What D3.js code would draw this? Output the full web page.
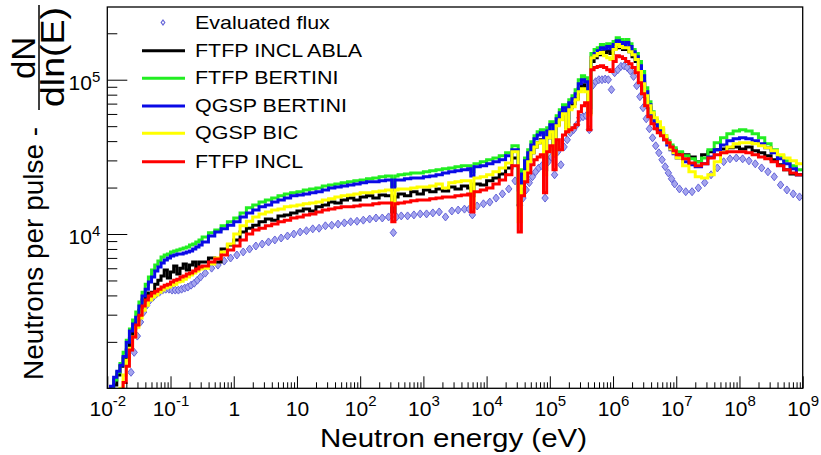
<!DOCTYPE html>
<html>
<head>
<meta charset="utf-8">
<script src="https://cdn.jsdelivr.net/npm/d3@7"></script>
<style>
	body { margin: 0; background: #fff; }
	svg { display: block; font-family: 'Liberation Sans', Arial, sans-serif; }
</style>
</head>
<body>
<div id="chart"></div>
<script>
// bin lower edges, log10(E / eV); the last entry closes the last bin
const logEdges = [-2.0, -1.95, -1.9, -1.85, -1.8, -1.75, -1.7, -1.65, -1.6, -1.55,
	-1.5, -1.45, -1.4, -1.35, -1.3, -1.25, -1.2, -1.15, -1.1, -1.05,
	-1.0, -0.95, -0.9, -0.85, -0.8, -0.75, -0.7, -0.65, -0.6, -0.55,
	-0.5, -0.4, -0.3, -0.2, -0.1,
	0.0, 0.1, 0.2, 0.3, 0.4, 0.5, 0.6, 0.7, 0.8, 0.9,
	1.0, 1.1, 1.2, 1.3, 1.4, 1.5, 1.6, 1.7, 1.8, 1.9,
	2.0, 2.1, 2.2, 2.3, 2.4, 2.5, 2.55, 2.6, 2.7, 2.8,
	2.9, 3.0, 3.1, 3.2, 3.3, 3.4, 3.5, 3.6, 3.7, 3.75,
	3.8, 3.9, 4.0, 4.1, 4.2, 4.3, 4.4, 4.5, 4.55, 4.6,
	4.65, 4.7, 4.75, 4.8, 4.85, 4.9, 4.95, 5.0, 5.05, 5.1,
	5.15, 5.2, 5.25, 5.3, 5.35, 5.4, 5.45, 5.5, 5.55, 5.6,
	5.65, 5.7, 5.75, 5.8, 5.85, 5.9, 5.95, 6.0, 6.05, 6.1,
	6.15, 6.2, 6.25, 6.3, 6.35, 6.4, 6.45, 6.5, 6.55, 6.6,
	6.65, 6.7, 6.75, 6.8, 6.85, 6.9, 6.95, 7.0, 7.1, 7.2,
	7.3, 7.4, 7.5, 7.6, 7.7, 7.8, 7.9, 8.0, 8.1, 8.2,
	8.3, 8.4, 8.5, 8.6, 8.7, 8.8, 8.9, 9.0];

const evaluatedFlux = [341, 396, 460, 534, 620, 720, 836, 1270, 1710, 2180,
	2690, 3120, 3460, 3730, 3900, 4080, 4200, 4330, 4390, 4390,
	4330, 4330, 4330, 4390, 4460, 4530, 4660, 4800, 5020, 5260,
	5580, 6010, 6290, 6680, 6990,
	7310, 7650, 7990, 8360, 8610, 8880, 9150, 9420, 9710, 10000,
	10300, 10500, 10800, 10900, 11300, 11400, 11600, 11800, 12000, 12100,
	12300, 12500, 12700, 12700, 12900, 10200, 12900, 13100, 13100, 13300,
	13500, 13500, 13700, 13900, 12900, 14100, 14300, 14500, 14500, 13300,
	15200, 15700, 16100, 17100, 18200, 19600, 22100, 15400, 17100, 19300,
	21500, 23500, 25300, 26800, 27700, 17100, 29400, 31600, 24200, 34100,
	28100, 36700, 40800, 45300, 47400, 51000, 56700, 57500, 58400, 47400,
	91400, 97100, 100000, 100000, 101000, 100000, 86200, 111000, 116000, 122000,
	123000, 120000, 114000, 105000, 91400, 77600, 65800, 55800, 48100, 42000,
	37300, 33600, 30300, 27300, 24900, 22800, 21100, 19600, 18800, 18800,
	19900, 21500, 24200, 26800, 29400, 30700, 31100, 30700, 29800, 28500,
	26800, 25300, 23500, 20800, 19300, 18200, 17400];

const ftfpInclAbla = [776, 901, 1050, 1220, 1390, 1570, 1770, 2110, 2460, 2770,
	3210, 3730, 4140, 3840, 4200, 4730, 5020, 5340, 5840, 5180,
	5670, 6200, 5500, 6010, 6390, 5840, 6290, 6580, 6010, 6580,
	6580, 6990, 6580, 7990, 8490,
	9150, 10300, 10900, 11400, 12000, 12500, 12300, 13100, 13300, 13700,
	14100, 14500, 14100, 15000, 15400, 16100, 15900, 16600, 17100, 16600,
	17400, 17700, 17100, 17900, 17700, 13900, 17400, 18200, 17700, 18800,
	18200, 19300, 18800, 19600, 19000, 20200, 19600, 20500, 19900, 17700,
	21100, 20800, 22100, 23100, 24500, 26800, 31100, 15400, 21100, 26100,
	30300, 33600, 36700, 39000, 40800, 26100, 42000, 46000, 35100, 51000,
	55800, 60200, 48800, 65800, 69900, 75300, 87400, 92800, 88700, 61100,
	131000, 139000, 145000, 152000, 150000, 154000, 148000, 159000, 166000, 161000,
	157000, 161000, 152000, 141000, 131000, 114000, 97100, 77600, 65800, 57500,
	51800, 47400, 43900, 41400, 39000, 36700, 35100, 33600, 32600, 31600,
	29400, 32600, 34100, 35100, 35600, 36200, 36700, 35600, 36700, 34600,
	33600, 32100, 30300, 28100, 26100, 24500, 24200];

const ftfpBertini = [836, 943, 1130, 1270, 1450, 1710, 2050, 2420, 2770, 3120,
	3620, 4200, 4730, 5260, 5840, 6290, 6680, 7090, 7310, 7420,
	7650, 7760, 7880, 7990, 8110, 8240, 8490, 8610, 8880, 9150,
	9570, 10200, 10600, 11300, 12000,
	12700, 13700, 14800, 15400, 16100, 16600, 17100, 17700, 18200, 18500,
	18800, 19300, 19600, 19900, 20500, 20800, 21100, 21500, 21800, 22100,
	22400, 22800, 23100, 23500, 23800, 20500, 23800, 24200, 24500, 24900,
	24900, 25300, 25700, 26100, 26500, 26800, 27300, 27700, 27700, 25300,
	28500, 29400, 30300, 31100, 32100, 33600, 37300, 20500, 26100, 31100,
	35100, 39600, 43300, 46000, 47400, 31100, 48800, 53400, 40800, 58400,
	63900, 68800, 56700, 74200, 78800, 86200, 100000, 106000, 103000, 68800,
	148000, 157000, 161000, 169000, 166000, 171000, 166000, 177000, 187000, 182000,
	177000, 182000, 171000, 157000, 148000, 131000, 113000, 88700, 72000, 62000,
	55000, 50300, 47400, 43300, 40200, 37800, 36200, 34100, 32100, 30700,
	29400, 31100, 35100, 39000, 42000, 44600, 46600, 47400, 46600, 44600,
	42000, 38400, 35100, 32100, 29800, 27700, 26100];

const qgspBertini = [901, 1030, 1180, 1290, 1410, 1610, 1990, 2350, 2610, 2890,
	3410, 3960, 4390, 4880, 5260, 5750, 6110, 6480, 6780, 6990,
	7200, 7310, 7420, 7420, 7530, 7650, 7760, 7990, 8240, 8490,
	8880, 9710, 10300, 10800, 11400,
	12000, 12900, 13700, 14300, 15000, 15400, 16100, 16600, 17100, 17700,
	17900, 18200, 18500, 18800, 19300, 19900, 20200, 20500, 20800, 21100,
	21500, 21800, 21800, 22100, 22400, 19300, 22400, 22400, 22800, 23100,
	23100, 23500, 23800, 24200, 24900, 25300, 25700, 26100, 26500, 23800,
	27300, 27700, 28500, 29400, 30300, 32100, 35100, 19300, 24500, 29800,
	33600, 37800, 41400, 43900, 45300, 29400, 46600, 51000, 38400, 55800,
	61100, 65800, 53400, 70900, 75300, 81200, 94200, 100000, 97100, 65800,
	139000, 148000, 154000, 161000, 159000, 164000, 159000, 169000, 179000, 174000,
	169000, 174000, 164000, 152000, 141000, 123000, 106000, 83700, 68800, 59300,
	52600, 48100, 44600, 40800, 37800, 35100, 33100, 31100, 29400, 28100,
	27300, 28500, 31600, 35100, 37800, 40200, 41400, 42000, 41400, 40200,
	38400, 36200, 33600, 30700, 28500, 26500, 24200];

const qgspBic = [620, 699, 800, 901, 1000, 1220, 1520, 1820, 2150, 2490,
	2850, 3210, 3460, 3730, 3900, 4020, 4200, 4330, 4460, 4530,
	4660, 4730, 4880, 4950, 5100, 5260, 5420, 5580, 5750, 5930,
	6010, 6390, 6990, 7650, 8610,
	10000, 11300, 12100, 12900, 13500, 13900, 14300, 14500, 15000, 15200,
	15400, 15700, 15900, 16100, 16600, 16900, 17400, 17700, 17900, 18200,
	18500, 18500, 18800, 19000, 19300, 15400, 19300, 19600, 19600, 19900,
	20200, 20200, 20500, 21100, 19900, 21500, 21800, 22100, 22100, 14800,
	23100, 23500, 24200, 25300, 26800, 28900, 34100, 12000, 20500, 25300,
	29400, 33600, 36700, 39000, 40200, 24200, 42000, 46000, 32600, 50300,
	55000, 60200, 46000, 63900, 66800, 74200, 83700, 87400, 83700, 59300,
	139000, 143000, 148000, 150000, 143000, 139000, 135000, 157000, 169000, 164000,
	161000, 161000, 152000, 145000, 135000, 113000, 94200, 78800, 67800, 61100,
	56700, 53400, 48800, 43300, 39000, 35600, 33600, 31100, 27700, 25300,
	23500, 23100, 24200, 29400, 33600, 36700, 38400, 39000, 39000, 38400,
	37300, 36200, 34600, 32600, 31100, 29800, 28500];

const ftfpIncl = [534, 620, 720, 836, 943, 1090, 1390, 1770, 2150, 2570,
	2980, 3410, 3730, 3960, 4140, 4260, 4390, 4530, 4660, 4730,
	4880, 5020, 5100, 5260, 5340, 5500, 5580, 5750, 5930, 6110,
	6200, 6580, 6880, 7310, 7880,
	8360, 9150, 10000, 10600, 10900, 11300, 11600, 12000, 12300, 12700,
	12900, 13300, 13500, 13900, 14300, 14500, 14800, 15000, 15000, 15200,
	15400, 15400, 15700, 15900, 15900, 12000, 15700, 15900, 16100, 16400,
	16600, 16600, 16900, 17100, 17400, 17400, 17700, 17900, 18200, 13900,
	18800, 19300, 19900, 21100, 22400, 24200, 27700, 10300, 17700, 21800,
	24900, 28100, 30300, 31600, 32600, 18500, 34100, 37300, 26100, 40800,
	35100, 43900, 46000, 47400, 48800, 51000, 62000, 67800, 70900, 47400,
	116000, 120000, 122000, 123000, 120000, 116000, 113000, 131000, 143000, 141000,
	137000, 131000, 127000, 120000, 111000, 95600, 81200, 67800, 57500, 51800,
	48100, 45300, 43300, 40800, 39000, 36700, 34600, 32600, 30700, 28900,
	27700, 28500, 31100, 32600, 33600, 34100, 34100, 34100, 33600, 32600,
	31600, 30700, 29400, 27700, 26100, 24900, 24200];

const modelNames = ['FTFP INCL ABLA', 'FTFP BERTINI', 'QGSP BERTINI', 'QGSP BIC', 'FTFP INCL'];
const modelValues = [ftfpInclAbla, ftfpBertini, qgspBertini, qgspBic, ftfpIncl];
const modelColors = ['#000000', '#22ee22', '#0a0ae6', '#ffff00', '#ff0000'];
const evaluatedName = 'Evaluated flux';
const evaluatedColor = '#6464d8';

const xTickExponents = [-2, -1, 0, 1, 2, 3, 4, 5, 6, 7, 8, 9];
const yTickExponents = [4, 5];

const width = 821;
const height = 455;
const margin = { top: 7, right: 18.3, bottom: 66.7, left: 107.3 };
const font = "'Liberation Sans', Arial, sans-serif";

const svg = d3.select('#chart').append('svg').attr('width', width).attr('height', height);

const x = d3.scaleLog().domain([1e-2, 1e9]).range([margin.left, width - margin.right]);
const y = d3.scaleLog().domain([1e3, 2.96e5]).range([height - margin.bottom, margin.top]);

svg.append('defs').append('clipPath').attr('id', 'plot-clip')
	.append('rect')
	.attr('x', margin.left).attr('y', margin.top)
	.attr('width', width - margin.left - margin.right)
	.attr('height', height - margin.top - margin.bottom);

const edges = logEdges.map((l) => Math.pow(10, l));
const centers = logEdges.slice(0, -1).map((l, i) => Math.pow(10, (l + logEdges[i + 1]) / 2));

function stepPoints(vals) {
	const pts = vals.map((v, i) => [edges[i], v]);
	pts.push([edges[vals.length], vals[vals.length - 1]]);
	return pts;
}

const line = d3.line()
	.x((d) => x(d[0]))
	.y((d) => y(d[1]))
	.curve(d3.curveStepAfter);

const plot = svg.append('g').attr('clip-path', 'url(#plot-clip)');

const diamond = 'M0,-4L3.2,0L0,4L-3.2,0Z';

plot.selectAll('.eval')
	.data(evaluatedFlux)
	.enter()
	.append('path')
	.attr('class', 'eval')
	.attr('d', diamond)
	.attr('transform', (d, i) => `translate(${x(centers[i])},${y(d)})`)
	.attr('fill', '#a4a4ee')
	.attr('stroke', evaluatedColor)
	.attr('stroke-width', 1);

modelValues.forEach((vals, k) => {
	plot.append('path')
		.attr('d', line(stepPoints(vals)))
		.attr('fill', 'none')
		.attr('stroke', modelColors[k])
		.attr('stroke-width', 3);
});

// ticks
const xMajor = xTickExponents.map((e) => Math.pow(10, e));
const xMinor = [];
xTickExponents.slice(0, -1).forEach((e) => {
	for (let m = 2; m <= 9; m++) xMinor.push(m * Math.pow(10, e));
});
const yMajor = yTickExponents.map((e) => Math.pow(10, e));
const yMinor = [];
[3, 4, 5].forEach((e) => {
	for (let m = 2; m <= 9; m++) {
		const v = m * Math.pow(10, e);
		if (v < y.domain()[1]) yMinor.push(v);
	}
});

const axisY0 = y.range()[0];

const gxMinor = svg.append('g')
	.attr('transform', `translate(0,${axisY0})`)
	.call(d3.axisBottom(x).tickValues(xMinor).tickSizeInner(-6).tickSizeOuter(0).tickFormat(''));
gxMinor.select('.domain').remove();

const gxMajor = svg.append('g')
	.attr('transform', `translate(0,${axisY0})`)
	.call(d3.axisBottom(x).tickValues(xMajor).tickSizeInner(-12).tickSizeOuter(0).tickPadding(13))
	.attr('font-family', font)
	.attr('font-size', 21);
gxMajor.select('.domain').remove();

function powerLabel(sel, e, supDy) {
	sel.text(null);
	if (e === 0) { sel.text('1'); return; }
	if (e === 1) { sel.text('10'); return; }
	sel.append('tspan').text('10');
	sel.append('tspan').attr('dy', supDy).attr('font-size', 15).text(e);
}

gxMajor.selectAll('.tick text')
	.attr('fill', '#000')
	.each(function (d) {
		powerLabel(d3.select(this), Math.round(Math.log10(d)), -10);
	});

const gyMinor = svg.append('g')
	.attr('transform', `translate(${margin.left},0)`)
	.call(d3.axisLeft(y).tickValues(yMinor).tickSizeInner(-10).tickSizeOuter(0).tickFormat(''));
gyMinor.select('.domain').remove();

const gyMajor = svg.append('g')
	.attr('transform', `translate(${margin.left},0)`)
	.call(d3.axisLeft(y).tickValues(yMajor).tickSizeInner(-20).tickSizeOuter(0).tickPadding(7))
	.attr('font-family', font)
	.attr('font-size', 21);
gyMajor.select('.domain').remove();

gyMajor.selectAll('.tick text')
	.attr('fill', '#000')
	.attr('dy', '0.45em')
	.each(function (d) {
		powerLabel(d3.select(this), Math.round(Math.log10(d)), -8);
	});

// frame
svg.append('rect')
	.attr('x', margin.left).attr('y', margin.top)
	.attr('width', width - margin.left - margin.right)
	.attr('height', height - margin.top - margin.bottom)
	.attr('fill', 'none')
	.attr('stroke', '#000')
	.attr('stroke-width', 1.3);

// axis titles
svg.append('text')
	.attr('x', 453.5)
	.attr('y', 447)
	.attr('text-anchor', 'middle')
	.attr('font-family', font)
	.attr('font-size', 25.6)
	.attr('textLength', 267)
	.attr('lengthAdjust', 'spacingAndGlyphs')
	.text('Neutron energy (eV)');

svg.append('text')
	.attr('transform', 'translate(43,380) rotate(-90)')
	.attr('font-family', font)
	.attr('font-size', 28)
	.attr('textLength', 253)
	.attr('lengthAdjust', 'spacingAndGlyphs')
	.text('Neutrons per pulse -');

svg.append('text')
	.attr('transform', 'translate(35,58) rotate(-90)')
	.attr('text-anchor', 'middle')
	.attr('font-family', font)
	.attr('font-size', 33)
	.text('dN');

svg.append('line')
	.attr('x1', 39).attr('x2', 39)
	.attr('y1', 5).attr('y2', 110)
	.attr('stroke', '#000')
	.attr('stroke-width', 1.5);

svg.append('text')
	.attr('transform', 'translate(64,57) rotate(-90)')
	.attr('text-anchor', 'middle')
	.attr('font-family', font)
	.attr('font-size', 33)
	.attr('textLength', 100)
	.attr('lengthAdjust', 'spacingAndGlyphs')
	.text('dln(E)');

// legend
const legendNames = [evaluatedName].concat(modelNames);
const legendRowY = [22.5, 50.7, 78.3, 106, 133.3, 161.7];

const legend = svg.append('g').attr('font-family', font).attr('font-size', 19);

legendNames.forEach((name, i) => {
	const row = legend.append('g').attr('transform', `translate(0,${legendRowY[i]})`);
	if (i === 0) {
		row.append('path')
			.attr('d', 'M0,-2.5L1.8,0L0,2.5L-1.8,0Z')
			.attr('transform', 'translate(163,0)')
			.attr('fill', 'none')
			.attr('stroke', evaluatedColor)
			.attr('stroke-width', 1.2);
	} else {
		row.append('line')
			.attr('x1', 142).attr('x2', 185)
			.attr('stroke', modelColors[i - 1])
			.attr('stroke-width', 3);
	}
	row.append('text')
		.attr('transform', 'translate(195,6) scale(1.13,1)')
		.text(name);
});
</script>
</body>
</html>
